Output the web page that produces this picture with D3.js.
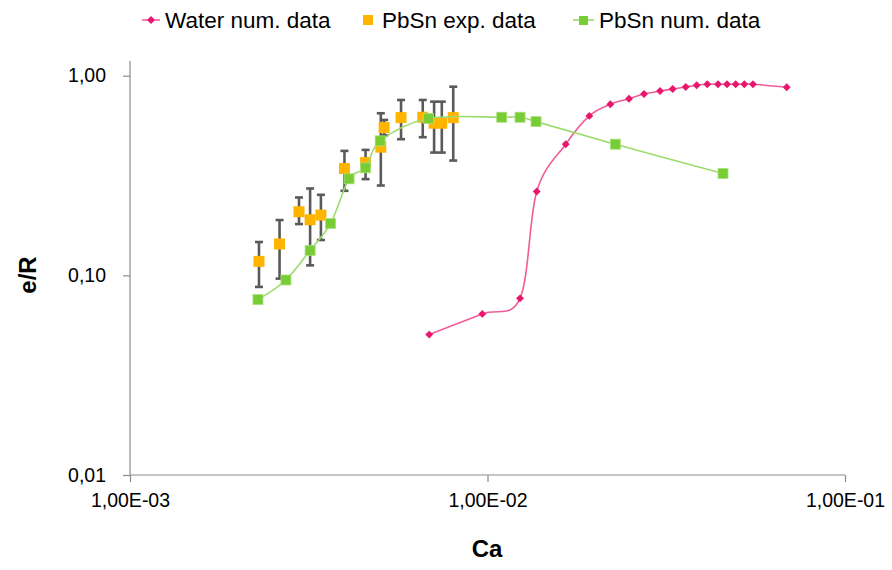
<!DOCTYPE html>
<html><head><meta charset="utf-8">
<script src="https://cdn.jsdelivr.net/npm/d3@7"></script>
<style>
html,body{margin:0;padding:0;background:#fff;}
svg{display:block;font-family:"Liberation Sans",Arial,sans-serif;}
</style></head>
<body>
<svg id="chart" width="892" height="570"></svg>
<script>
// ---- data ----
const seriesNames = ["Water num. data", "PbSn exp. data", "PbSn num. data"];
const waterCa = [0.00687,0.00967,0.01233,0.01373,0.01655,0.01927,0.02206,0.02488,0.02741,0.03038,0.03296,0.03585,0.03847,0.04119,0.04413,0.04677,0.04946,0.05228,0.05528,0.0687];
const waterER = [0.0505,0.0641,0.0767,0.263,0.454,0.629,0.719,0.767,0.810,0.838,0.858,0.878,0.895,0.906,0.906,0.906,0.906,0.906,0.906,0.875];
const expCa = [0.002295,0.00262,0.00297,0.00319,0.00342,0.00398,0.00456,0.00503,0.00514,0.00573,0.00659,0.00709,0.00745,0.00802];
const expER = [0.1175,0.1436,0.2083,0.1899,0.2004,0.3428,0.3673,0.4385,0.5495,0.6166,0.6194,0.5781,0.5781,0.6166];
const expErrHi = [0.1469,0.1892,0.2455,0.2723,0.2532,0.4202,0.4250,0.6486,0.6005,0.7559,0.7559,0.7413,0.7413,0.881];
const expErrLo = [0.0875,0.0963,0.1807,0.1122,0.1503,0.2651,0.3034,0.2818,0.5023,0.4808,0.4920,0.4121,0.4121,0.3758];
const numCa = [0.00228,0.00273,0.00319,0.00364,0.00410,0.00456,0.00501,0.00684,0.01096,0.01233,0.01367,0.02278,0.04558];
const numER = [0.0756,0.0948,0.1334,0.1820,0.3044,0.3456,0.4716,0.6109,0.6194,0.6194,0.5888,0.4539,0.3236];
const xTickValues = [0.001, 0.01, 0.1];
const xTickLabels = ["1,00E-03", "1,00E-02", "1,00E-01"];
const yTickValues = [0.01, 0.1, 1];
const yTickLabels = ["0,01", "0,10", "1,00"];
const xTitle = "Ca";
const yTitle = "e/R";

// ---- colours ----
const pinkLine = "#f05c98", pinkMark = "#e8166c";
const orange = "#ffb400";
const greenLine = "#9bdc6c", greenMark = "#78cc34";
const axisCol = "#8c8c8c", errCol = "#5a5a5a";

const svg = d3.select("#chart");
const x = d3.scaleLog().domain([1e-3, 1e-1]).range([130, 845]);
const y = d3.scaleLog().domain([0.01, 1]).range([475, 75.7]);

// axes
const xAxis = svg.append("g").attr("transform", "translate(0,475)")
  .call(d3.axisBottom(x).tickValues(xTickValues).tickSize(7).tickPadding(11)
    .tickFormat((d, i) => xTickLabels[i]));
const yAxis = svg.append("g").attr("transform", "translate(130,0)")
  .call(d3.axisLeft(y).tickValues(yTickValues).tickSize(7).tickPadding(17)
    .tickFormat((d, i) => yTickLabels[i]));
[xAxis, yAxis].forEach(g => {
  g.select(".domain").remove();
  g.selectAll(".tick line").attr("stroke", axisCol).attr("stroke-width", 1.2);
  g.selectAll(".tick text").attr("fill", "#000").attr("font-size", 19.5)
    .attr("font-family", "'Liberation Sans',Arial,sans-serif");
});
svg.append("line").attr("x1", 130).attr("x2", 845).attr("y1", 475).attr("y2", 475)
  .attr("stroke", axisCol).attr("stroke-width", 1.2);
svg.append("line").attr("x1", 130).attr("x2", 130).attr("y1", 61).attr("y2", 475)
  .attr("stroke", axisCol).attr("stroke-width", 1.2);

// axis titles
svg.append("text").attr("x", 487).attr("y", 557).attr("text-anchor", "middle")
  .attr("font-size", 24).attr("font-weight", "bold").text(xTitle);
svg.append("text").attr("transform", "translate(36,275) rotate(-90)").attr("text-anchor", "middle")
  .attr("font-size", 24).attr("font-weight", "bold").text(yTitle);

const smooth = d3.line().curve(d3.curveCardinal.tension(0));

// water series
const waterPts = waterCa.map((c, i) => [x(c), y(waterER[i])]);
svg.append("path").attr("d", smooth(waterPts)).attr("fill", "none")
  .attr("stroke", pinkLine).attr("stroke-width", 1.6);
svg.append("g").selectAll("path").data(waterPts).join("path")
  .attr("d", d3.symbol(d3.symbolDiamond2, 40)())
  .attr("transform", d => `translate(${d[0]},${d[1]})`).attr("fill", pinkMark);

// exp error bars
const eb = svg.append("g").attr("stroke", errCol).attr("stroke-width", 2.6);
expCa.forEach((c, i) => {
  const cx = x(c);
  eb.append("line").attr("x1", cx).attr("x2", cx).attr("y1", y(expErrHi[i])).attr("y2", y(expErrLo[i]));
  eb.append("line").attr("x1", cx - 4).attr("x2", cx + 4).attr("y1", y(expErrHi[i])).attr("y2", y(expErrHi[i]));
  eb.append("line").attr("x1", cx - 4).attr("x2", cx + 4).attr("y1", y(expErrLo[i])).attr("y2", y(expErrLo[i]));
});
svg.append("g").selectAll("rect").data(expCa).join("rect")
  .attr("x", d => x(d) - 5.5).attr("y", (d, i) => y(expER[i]) - 5.5)
  .attr("width", 11).attr("height", 11).attr("fill", orange);

// num series
const numPts = numCa.map((c, i) => [x(c), y(numER[i])]);
svg.append("path").attr("d", smooth(numPts)).attr("fill", "none")
  .attr("stroke", greenLine).attr("stroke-width", 1.6);
svg.append("g").selectAll("rect").data(numPts).join("rect")
  .attr("x", d => d[0] - 5).attr("y", d => d[1] - 5)
  .attr("width", 10).attr("height", 10).attr("fill", greenMark)
  .attr("stroke", "#a8e07c").attr("stroke-width", 0.8);

// legend
const lg = svg.append("g").attr("font-size", 22.5);
lg.append("line").attr("x1", 142).attr("x2", 160).attr("y1", 20).attr("y2", 20)
  .attr("stroke", pinkLine).attr("stroke-width", 1.6);
lg.append("path").attr("d", d3.symbol(d3.symbolDiamond2, 40)())
  .attr("transform", "translate(151,20)").attr("fill", pinkMark);
lg.append("text").attr("x", 165).attr("y", 28).text(seriesNames[0]);
lg.append("rect").attr("x", 363).attr("y", 15).attr("width", 10).attr("height", 10).attr("fill", orange);
lg.append("text").attr("x", 382).attr("y", 28).text(seriesNames[1]);
lg.append("line").attr("x1", 573).attr("x2", 594).attr("y1", 20).attr("y2", 20)
  .attr("stroke", greenLine).attr("stroke-width", 1.6);
lg.append("rect").attr("x", 579).attr("y", 16).attr("width", 9).attr("height", 9).attr("fill", greenMark);
lg.append("text").attr("x", 599).attr("y", 28).text(seriesNames[2]);
</script>
</body></html>
